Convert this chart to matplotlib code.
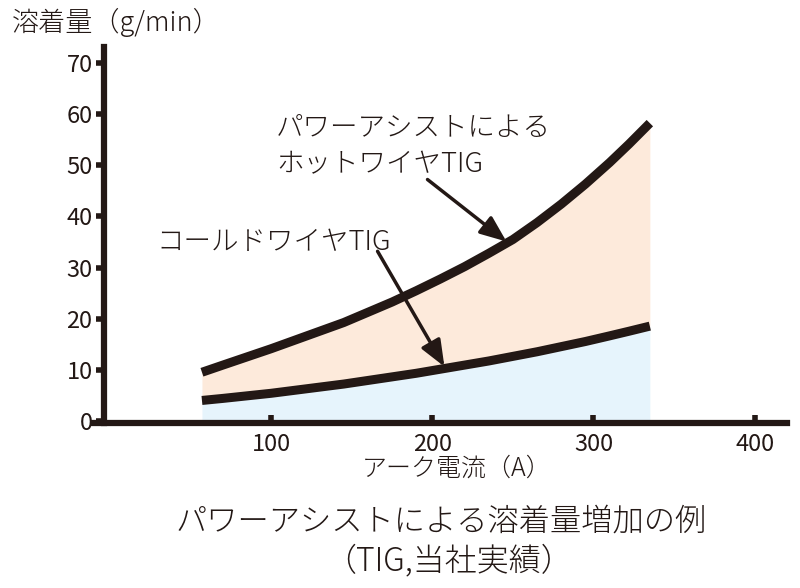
import matplotlib
matplotlib.use("Agg")
import matplotlib.pyplot as plt

plt.rcParams['font.family'] = ['Noto Sans CJK JP', 'DejaVu Sans']

# アーク電流 (A)
current = [57, 70, 85, 100, 115, 130, 145, 160, 175, 190,
           205, 220, 235, 250, 265, 280, 295, 310, 322, 335]
# ホットワイヤTIG 溶着量 (g/min)
hot_wire = [9.6, 11.0, 12.6, 14.2, 15.9, 17.6, 19.3, 21.3, 23.3, 25.5,
            27.8, 30.2, 32.8, 35.5, 38.8, 42.4, 46.3, 50.5, 54.1, 58.2]
# コールドワイヤTIG 溶着量 (g/min)
cold_wire = [4.1, 4.5, 5.0, 5.5, 6.1, 6.7, 7.3, 8.0, 8.7, 9.4,
             10.2, 11.0, 11.8, 12.7, 13.6, 14.6, 15.6, 16.7, 17.6, 18.6]

x_ticks = [100, 200, 300, 400]
y_ticks = [0, 10, 20, 30, 40, 50, 60, 70]

ink = "#231815"

fig = plt.figure(figsize=(8, 5.88), dpi=100)
ax = fig.add_axes([0.1175, 0.2806, 0.866, 0.639])

# 塗りつぶし
ax.fill_between(current, 0, cold_wire, color="#e6f4fc", lw=0)
ax.fill_between(current, cold_wire, hot_wire, color="#fdeadb", lw=0)

# 曲線
ax.plot(current, hot_wire, color=ink, lw=6.5, solid_capstyle='butt',
        solid_joinstyle='round')
ax.plot(current, cold_wire, color=ink, lw=6.5, solid_capstyle='butt',
        solid_joinstyle='round')

ax.set_xlim(-10, 420)
ax.set_ylim(-0.3, 73)

# 軸
for s in ['top', 'right']:
    ax.spines[s].set_visible(False)
ax.spines['left'].set_position(('data', -4))
for s in ['left', 'bottom']:
    ax.spines[s].set_linewidth(4.5)
    ax.spines[s].set_color(ink)

ax.set_xticks(x_ticks)
ax.set_yticks(y_ticks)
ax.tick_params(axis='x', direction='in', length=6, width=4, color=ink,
               labelsize=17, labelcolor=ink, pad=7)
ax.tick_params(axis='y', direction='out', length=6, width=4, color=ink,
               labelsize=17, labelcolor=ink, pad=2)

# ラベル
lbl = dict(color=ink, fontweight='light')
ax.text(103, 57.3, "パワーアシストによる", fontsize=19.8, va='center', **lbl)
ax.text(103, 50.1, "ホットワイヤTIG", fontsize=19.8, va='center', **lbl)
ax.text(29, 35.1, "コールドワイヤTIG", fontsize=19.8, va='center', **lbl)

arrow = dict(arrowstyle='-|>,head_length=1.6,head_width=0.65', color=ink,
             lw=2.5, shrinkA=0, shrinkB=0)
ax.annotate("", xy=(246, 35.1), xytext=(197, 47.2), arrowprops=arrow)
ax.annotate("", xy=(207.5, 10.7), xytext=(166, 33.2), arrowprops=arrow)

fig.text(0.015, 1 - 22 / 588, "溶着量（g/min）", fontsize=19.5, va='center', **lbl)
fig.text(457 / 800, 1 - 468 / 588, "アーク電流（A）", fontsize=18,
         ha='center', va='center', **lbl)
fig.text(441 / 800, 1 - 522 / 588, "パワーアシストによる溶着量増加の例", fontsize=22.5,
         ha='center', va='center', **lbl)
fig.text(449 / 800, 1 - 561 / 588, "（TIG,当社実績）", fontsize=23,
         ha='center', va='center', **lbl)

plt.savefig("out.png", dpi=100)
